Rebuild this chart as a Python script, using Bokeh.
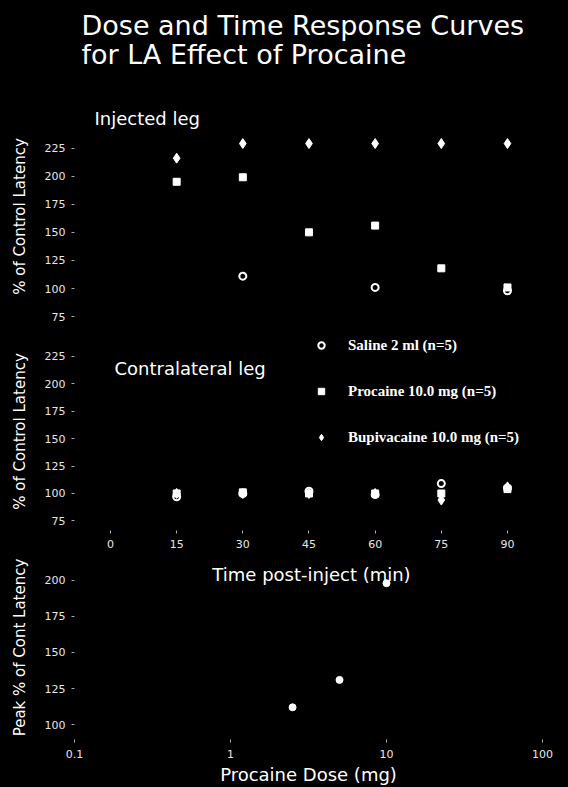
from bokeh.plotting import figure
from bokeh.models import Range1d, FixedTicker, Label, Legend, LegendItem
from bokeh.layouts import column
from bokeh.embed import file_html
from bokeh.resources import INLINE

# ---------------- data ----------------
title_line1 = "Dose and Time Response Curves"
title_line2 = "for LA Effect of Procaine"
series_names = ["Saline 2 ml (n=5)", "Procaine 10.0 mg (n=5)", "Bupivacaine 10.0 mg (n=5)"]

time_ticks = [0, 15, 30, 45, 60, 75, 90]
latency_ticks = [75, 100, 125, 150, 175, 200, 225]
peak_ticks = [100, 125, 150, 175, 200]
dose_ticks = [0.1, 1, 10, 100]
dose_tick_labels = ["0.1", "1", "10", "100"]

# injected leg
inj_saline_t = [30, 60, 90]
inj_saline = [111, 101, 98]
inj_procaine_t = [15, 30, 45, 60, 75, 90]
inj_procaine = [195, 199, 150, 156, 118, 101]
inj_bupi_t = [15, 30, 45, 60, 75, 90]
inj_bupi = [216, 229, 229, 229, 229, 229]

# contralateral leg
contra_t = [15, 30, 45, 60, 75, 90]
contra_saline = [97, 100, 102, 99, 109, 105]
contra_procaine = [100, 101, 100, 100, 100, 104]
contra_bupi = [100, 100, 100, 100, 94, 106]

# dose response
doses = [2.5, 5, 10]
peak_latency = [112, 131, 198]

SANS = "DejaVu Sans"
SERIF = "Liberation Serif"


def style(p):
    p.background_fill_color = "black"
    p.border_fill_color = "black"
    p.outline_line_color = None
    p.grid.visible = False
    for ax in p.axis:
        ax.axis_line_color = None
        ax.major_tick_line_color = "#aaaaaa"
        ax.major_tick_in = 0
        ax.major_tick_out = 3
        ax.minor_tick_line_color = None
        ax.major_label_text_color = "#e6e6e6"
        ax.major_label_text_font = SANS
        ax.major_label_text_font_size = "11px"
        ax.axis_label_text_color = "white"
        ax.axis_label_text_font = SANS
        ax.axis_label_text_font_style = "normal"
    for ax in p.yaxis:
        ax.major_label_standoff = 6
        ax.axis_label_standoff = 13
        ax.axis_label_text_font_size = "15px"


def markers(p, xs, ys, kind):
    if kind == 0:
        return p.scatter(xs, ys, marker="circle", size=7, fill_color="black",
                         line_color="white", line_width=2)
    if kind == 1:
        return p.scatter(xs, ys, marker="square", size=7, fill_color="white",
                         line_color="white")
    return p.scatter(xs, ys, marker="diamond", size=10, fill_color="white",
                     line_color="white")


common = dict(width=568, output_backend="svg", toolbar_location=None,
              min_border_left=74, min_border_right=26)

# ---------------- title strip ----------------
p0 = figure(width=568, height=100, output_backend="svg", toolbar_location=None,
            x_range=Range1d(0, 1), y_range=Range1d(0, 1),
            min_border_left=0, min_border_right=0, min_border_top=0, min_border_bottom=0)
p0.axis.visible = False
p0.grid.visible = False
p0.background_fill_color = "black"
p0.border_fill_color = "black"
p0.outline_line_color = None
p0.add_layout(Label(x=7, y=75, x_units="screen", y_units="screen", text=title_line1,
                    text_font=SANS, text_font_size="27px", text_color="white",
                    text_baseline="alphabetic"))
p0.add_layout(Label(x=7, y=46, x_units="screen", y_units="screen", text=title_line2,
                    text_font=SANS, text_font_size="27px", text_color="white",
                    text_baseline="alphabetic"))

# ---------------- panel 1: injected leg ----------------
p1 = figure(height=232, x_range=Range1d(-8.16, 97.94), y_range=Range1d(60.9, 267.3),
            min_border_top=0, min_border_bottom=0, **common)
markers(p1, inj_saline_t, inj_saline, 0)
markers(p1, inj_procaine_t, inj_procaine, 1)
markers(p1, inj_bupi_t, inj_bupi, 2)
p1.xaxis.visible = False
p1.yaxis.ticker = FixedTicker(ticks=latency_ticks)
p1.yaxis.axis_label = "% of Control Latency"
style(p1)
p1.add_layout(Label(x=20, y=214, x_units="screen", y_units="screen", text="Injected leg",
                    text_font=SANS, text_font_size="18px", text_color="white",
                    text_baseline="alphabetic"))

# ---------------- panel 2: contralateral leg ----------------
p2 = figure(height=223, x_range=Range1d(-8.16, 97.94), y_range=Range1d(66.2, 246.9),
            min_border_top=0, min_border_bottom=25, **common)
r_s = markers(p2, contra_t, contra_saline, 0)
r_p = markers(p2, contra_t, contra_procaine, 1)
r_b = markers(p2, contra_t, contra_bupi, 2)
p2.xaxis.ticker = FixedTicker(ticks=time_ticks)
p2.yaxis.ticker = FixedTicker(ticks=latency_ticks)
p2.yaxis.axis_label = "% of Control Latency"
style(p2)
p2.xaxis.major_label_standoff = 6
p2.add_layout(Label(x=40, y=162, x_units="screen", y_units="screen", text="Contralateral leg",
                    text_font=SANS, text_font_size="18px", text_color="white",
                    text_baseline="alphabetic"))
legend = Legend(items=[LegendItem(label=series_names[0], renderers=[r_s]),
                       LegendItem(label=series_names[1], renderers=[r_p]),
                       LegendItem(label=series_names[2], renderers=[r_b])],
                location=(239, 83), orientation="vertical",
                background_fill_alpha=0, border_line_color=None,
                padding=0, margin=0, spacing=26, glyph_width=16, glyph_height=20,
                label_height=20, label_standoff=19,
                label_text_font=SERIF, label_text_font_size="15px",
                label_text_font_style="bold", label_text_color="white")
p2.add_layout(legend)

# ---------------- panel 3: dose response ----------------
p3 = figure(height=232, x_axis_type="log", x_range=Range1d(0.1, 100),
            y_range=Range1d(89.7, 217.2), min_border_top=0, min_border_bottom=47, **common)
p3.scatter(doses, peak_latency, marker="circle", size=7, fill_color="white", line_color="white")
p3.xaxis.ticker = FixedTicker(ticks=dose_ticks)
p3.xaxis.major_label_overrides = {t: s for t, s in zip(dose_ticks, dose_tick_labels)}
p3.yaxis.ticker = FixedTicker(ticks=peak_ticks)
p3.yaxis.axis_label = "Peak % of Cont Latency"
p3.xaxis.axis_label = "Procaine Dose (mg)"
style(p3)
p3.xaxis.major_label_standoff = 7
p3.xaxis.axis_label_standoff = 3
p3.xaxis.axis_label_text_font_size = "18px"
p3.add_layout(Label(x=237, y=165, x_units="screen", y_units="screen",
                    text="Time post-inject (min)", text_align="center",
                    text_font=SANS, text_font_size="18px", text_color="white",
                    text_baseline="alphabetic"))

layout = column(p0, p1, p2, p3, spacing=0)
html = file_html(layout, INLINE)
html = html.replace("</head>", "<style>html,body{background:#000;}</style></head>", 1)
open("out.html", "w").write(html)
